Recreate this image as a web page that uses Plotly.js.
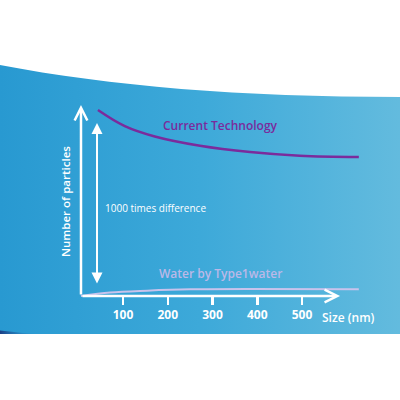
<!DOCTYPE html>
<html>
<head>
<meta charset="utf-8">
<script src="https://cdn.plot.ly/plotly-3.0.1.min.js"></script>
<style>
html,body{margin:0;padding:0;background:#fff;}
#chart{width:400px;height:400px;}
</style>
</head>
<body>
<div id="chart"></div>
<script>
// Data (schematic, arbitrary particle units)
const currentSize = [44, 104, 171, 272, 384, 495, 627];
const currentCount = [100.5, 91.8, 86.2, 81.2, 77.8, 75.8, 75.1];
const type1Size = [6, 71, 154, 250, 384, 627];
const type1Count = [0, 1.9, 2.9, 3.6, 3.8, 3.6];
const tickValues = [100, 200, 300, 400, 500];
const tickLabels = ['100', '200', '300', '400', '500'];
const seriesNames = ['Current Technology', 'Water by Type1water'];

const FONT = 'Open Sans, Noto Sans, sans-serif';

const bgSvg = `<svg xmlns="http://www.w3.org/2000/svg" width="400" height="400" viewBox="0 0 400 400">
<defs><linearGradient id="g" x1="0" y1="0" x2="1" y2="0">
<stop offset="0" stop-color="#2899d1"/><stop offset="0.5" stop-color="#3da9d9"/><stop offset="1" stop-color="#63bbde"/></linearGradient>
<linearGradient id="d" x1="0" y1="0" x2="1" y2="0"><stop offset="0" stop-color="#1b3f86"/><stop offset="1" stop-color="#2a9bd2" stop-opacity="0"/></linearGradient></defs>
<path d="M0,65 C110,86 240,97 400,97 L400,334 L0,334 Z" fill="url(#g)"/>
<path d="M0,330.5 Q20,333 40,334 L0,334 Z" fill="url(#d)"/>
</svg>`;

const traces = [
  {x: currentSize, y: currentCount, name: seriesNames[0], mode: 'lines', type: 'scatter',
   line: {color: '#7b2b9c', width: 2.5, shape: 'spline', smoothing: 1.1}, hoverinfo: 'skip'},
  {x: type1Size, y: type1Count, name: seriesNames[1], mode: 'lines', type: 'scatter',
   line: {color: '#c8c3ec', width: 2, shape: 'spline'}, hoverinfo: 'skip'}
];

const arrowBase = {text: '', showarrow: true, axref: 'x', ayref: 'y', xref: 'x', yref: 'y',
  arrowcolor: '#ffffff', standoff: 0, startstandoff: 0};

const layout = {
  width: 400, height: 400,
  margin: {l: 0, r: 0, t: 0, b: 0},
  paper_bgcolor: '#ffffff',
  plot_bgcolor: 'rgba(0,0,0,0)',
  showlegend: false,
  images: [{source: 'data:image/svg+xml;utf8,' + encodeURIComponent(bgSvg),
    xref: 'paper', yref: 'paper', x: 0, y: 1, sizex: 1, sizey: 1,
    xanchor: 'left', yanchor: 'top', sizing: 'stretch', layer: 'below'}],
  xaxis: {range: [-174.9, 719], showgrid: false, zeroline: false, showline: false,
    anchor: 'free', position: 0.26,
    tickmode: 'array', tickvals: tickValues, ticktext: tickLabels,
    ticks: 'outside', ticklen: 8, tickwidth: 2.5, tickcolor: '#ffffff',
    tickfont: {family: FONT, size: 12, color: '#ffffff', weight: 'bold'}},
  yaxis: {range: [-56.2, 160], visible: false, showgrid: false, zeroline: false},
  annotations: [
    Object.assign({}, arrowBase, {x: 6.1, y: 103.2, ax: 6.1, ay: 0, arrowhead: 5, arrowsize: 1, arrowwidth: 2.5}),
    Object.assign({}, arrowBase, {x: 585, y: 0, ax: 6.1, ay: 0, arrowhead: 5, arrowsize: 1, arrowwidth: 2.5}),
    Object.assign({}, arrowBase, {x: 41.9, y: 93.5, ax: 41.9, ay: 5.9, arrowhead: 2, arrowside: 'end+start', arrowsize: 1.1, arrowwidth: 2}),
    {text: seriesNames[0], x: 316.8, y: 91.9, xref: 'x', yref: 'y', showarrow: false,
     xanchor: 'center', yanchor: 'middle',
     font: {family: FONT, size: 12, color: '#7b2b9c', weight: 600}},
    {text: seriesNames[1], x: 316.8, y: 12.4, xref: 'x', yref: 'y', showarrow: false,
     xanchor: 'center', yanchor: 'middle',
     font: {family: FONT, size: 12, color: '#bcb8e8', weight: 600}},
    {text: '1000 times difference', x: 172.6, y: 47.6, xref: 'x', yref: 'y', showarrow: false,
     xanchor: 'center', yanchor: 'middle',
     font: {family: FONT, size: 10, color: '#ffffff'}},
    {text: 'Number of particles', x: 65/400, y: 1 - 202/400, xref: 'paper', yref: 'paper', showarrow: false,
     xanchor: 'center', yanchor: 'middle',
     textangle: -90, font: {family: FONT, size: 11.5, color: '#ffffff', weight: 600}},
    {text: 'Size (nm)', x: 348/400, y: 1 - 317/400, xref: 'paper', yref: 'paper', showarrow: false,
     xanchor: 'center', yanchor: 'middle',
     font: {family: FONT, size: 12, color: '#ffffff', weight: 600}}
  ]
};

Plotly.newPlot('chart', traces, layout, {staticPlot: true, displayModeBar: false});
</script>
</body>
</html>
